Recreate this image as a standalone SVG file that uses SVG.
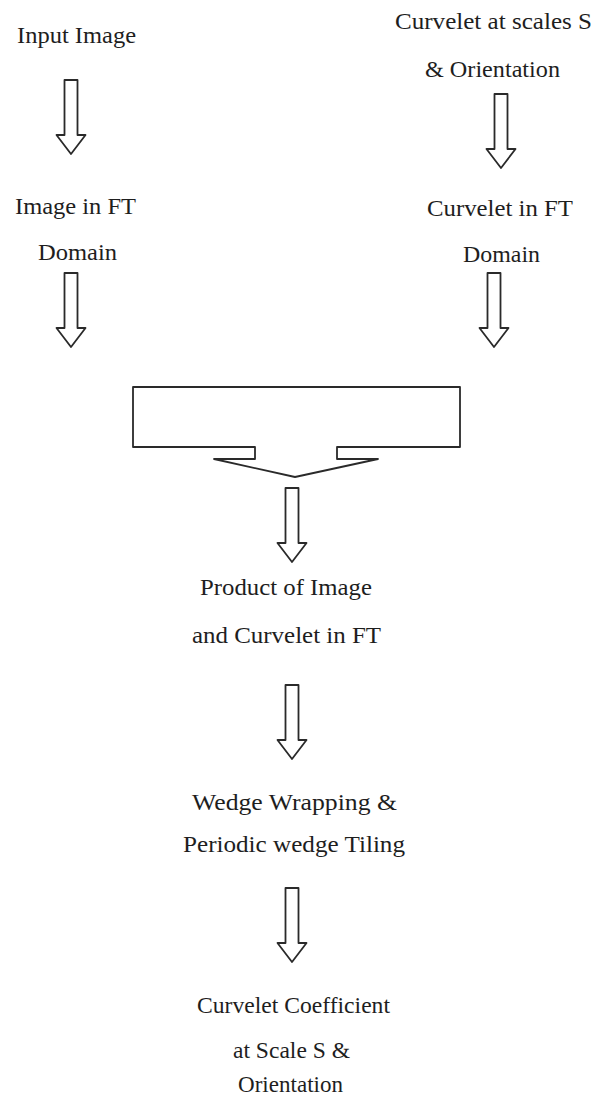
<svg xmlns="http://www.w3.org/2000/svg" xmlns:xlink="http://www.w3.org/1999/xlink" width="595" height="1098" viewBox="0 0 595 1098">
<style>
.t{font-family:"Liberation Serif","Times New Roman",serif;font-size:23px;fill:#1e1e1e;text-anchor:middle}
.s{fill:#fff;stroke:#2a2a2a;stroke-width:1.8;stroke-linejoin:round}
</style>
<defs>
<path id="arr" d="M-6.5,0 H6.5 V55 H14.5 L0,74 L-14.5,55 H-6.5 Z"/>
</defs>
<rect width="595" height="1098" fill="#fff"/>
<g id="input-image"><text class="t" x="76.5" y="43" textLength="119" lengthAdjust="spacingAndGlyphs">Input Image</text></g>
<g id="curvelet-scales"><text class="t" x="493.5" y="29" textLength="197" lengthAdjust="spacingAndGlyphs">Curvelet at scales S</text><text class="t" x="492.5" y="77" textLength="135" lengthAdjust="spacingAndGlyphs">&amp; Orientation</text></g>
<g id="image-ft"><text class="t" x="75.5" y="214" textLength="121" lengthAdjust="spacingAndGlyphs">Image in FT</text><text class="t" x="77.5" y="260" textLength="79" lengthAdjust="spacingAndGlyphs">Domain</text></g>
<g id="curvelet-ft"><text class="t" x="500" y="216" textLength="146" lengthAdjust="spacingAndGlyphs">Curvelet in FT</text><text class="t" x="501.5" y="262" textLength="77" lengthAdjust="spacingAndGlyphs">Domain</text></g>
<g id="merge"><path class="s" d="M133,387 H460 V447 H337 V459 H378 L295,477 L214,459 H255 V447 H133 Z"/></g>
<g id="product"><text class="t" x="286" y="595" textLength="172" lengthAdjust="spacingAndGlyphs">Product of Image</text><text class="t" x="286.5" y="643" textLength="189" lengthAdjust="spacingAndGlyphs">and Curvelet in FT</text></g>
<g id="wedge"><text class="t" x="294.5" y="810" textLength="205" lengthAdjust="spacingAndGlyphs">Wedge Wrapping &amp;</text><text class="t" x="294" y="852" textLength="222" lengthAdjust="spacingAndGlyphs">Periodic wedge Tiling</text></g>
<g id="coefficient"><text class="t" x="293.5" y="1013" textLength="193" lengthAdjust="spacingAndGlyphs">Curvelet Coefficient</text><text class="t" x="291.5" y="1058" textLength="117" lengthAdjust="spacingAndGlyphs">at Scale S &amp;</text><text class="t" x="290.5" y="1092" textLength="105" lengthAdjust="spacingAndGlyphs">Orientation</text></g>
<g id="connectors">
<use xlink:href="#arr" class="s" x="71" y="80"/>
<use xlink:href="#arr" class="s" x="501" y="94"/>
<use xlink:href="#arr" class="s" x="71" y="273"/>
<use xlink:href="#arr" class="s" x="494" y="273"/>
<use xlink:href="#arr" class="s" x="292" y="488"/>
<use xlink:href="#arr" class="s" x="292" y="685"/>
<use xlink:href="#arr" class="s" x="292" y="888"/>
</g>
</svg>
